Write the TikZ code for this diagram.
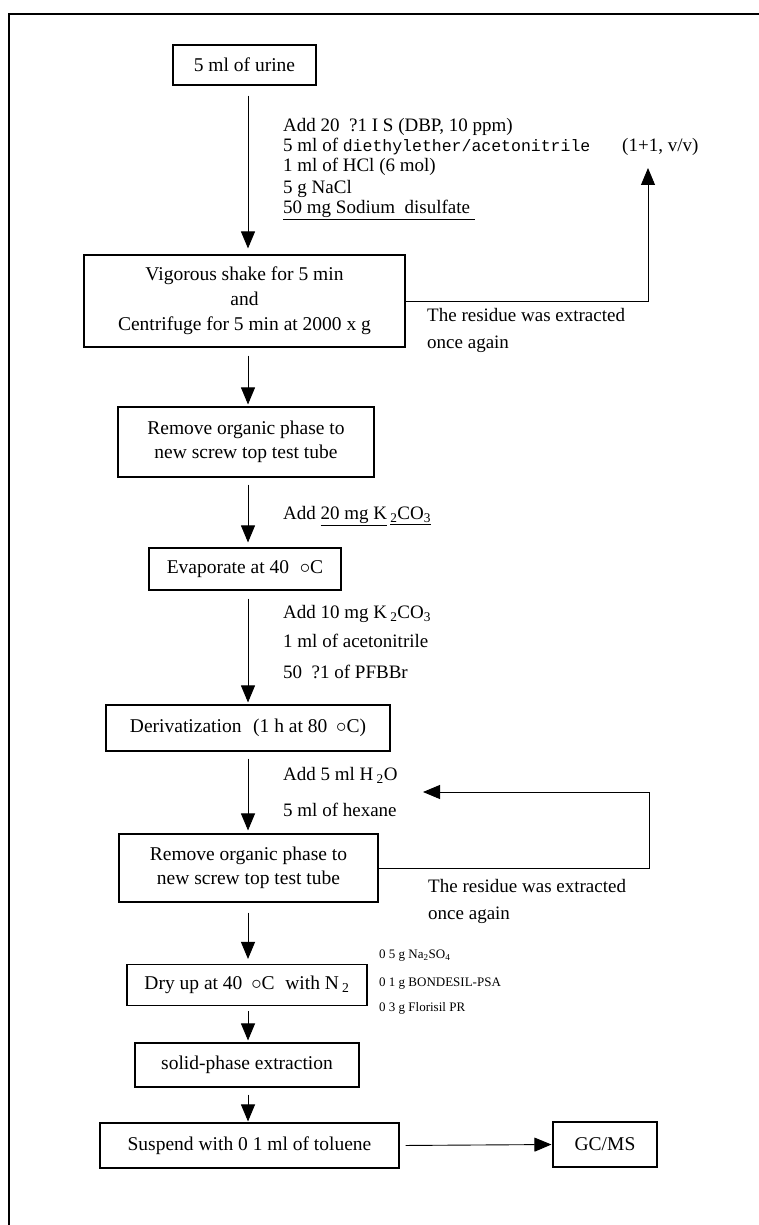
\documentclass[tikz,border=0pt]{standalone}
\usepackage{fontspec}
\setmainfont{Liberation Serif}
\newfontfamily\monofont{Liberation Mono}
\usetikzlibrary{arrows.meta}
\newcommand{\mysub}[1]{\textsubscript{#1}}
\begin{document}
\begin{tikzpicture}[x=1pt,y=-1pt,
  box/.style={draw, line width=1.1pt, inner sep=0pt, align=center,
              font=\fontsize{19.5}{25}\selectfont},
  lbl/.style={anchor=west, inner sep=0pt, font=\fontsize{19}{22}\selectfont},
  smalllbl/.style={anchor=west, inner sep=0pt, font=\fontsize{13}{15}\selectfont},
  arr/.style={line width=0.9pt, -{Triangle[width=14pt,length=17pt]}},
  frameline/.style={line width=1.1pt}]
\useasboundingbox (0,0) rectangle (759,1225);
% frame
\draw[frameline] (9,1225) -- (9,14) -- (759,14);
\coordinate (axis) at (248,0);
% boxes
\node[box, minimum width=143pt, minimum height=40pt] (b1) at (244.5,65) {5 ml of urine};
\node[box, minimum width=321pt, minimum height=92pt] (b2) at (244.5,301)
  {Vigorous shake for 5 min\\and\\Centrifuge for 5 min at 2000 x g};
\node[box, minimum width=256pt, minimum height=70pt, font=\fontsize{19.5}{24}\selectfont] (b3) at (246,442)
  {Remove organic phase to\\new screw top test tube};
\node[box, minimum width=192pt, minimum height=42pt] (b4) at (245,569)
  {Evaporate at 40\hspace{0.55em}$\circ$C};
\node[box, minimum width=284pt, minimum height=46pt] (b5) at (248,728)
  {Derivatization\hspace{0.6em}(1 h at 80\hspace{0.45em}$\circ$C)};
\node[box, minimum width=259pt, minimum height=68pt, font=\fontsize{19.5}{24}\selectfont] (b6) at (248.5,868)
  {Remove organic phase to\\new screw top test tube};
\node[box, minimum width=240pt, minimum height=41pt] (b7) at (247,985)
  {Dry up at 40\hspace{0.45em}$\circ$C\hspace{0.3em} with N\,\mysub{2}};
\node[box, minimum width=224pt, minimum height=44pt] (b8) at (247,1065)
  {solid-phase extraction};
\node[box, minimum width=299pt, minimum height=45pt] (b9) at (249.5,1145.5)
  {Suspend with 0 1 ml of toluene};
\node[box, minimum width=104pt, minimum height=45pt] (b10) at (605,1144.5) {GC/MS};
% labels
\node[lbl] (t1) at (283,127) {Add 20\ \ ?1 I S (DBP, 10 ppm)};
\node[lbl] (t2) at (283,147) {5 ml of {\monofont\fontsize{16.5}{20}\selectfont diethylether/acetonitrile}};
\node[lbl] (t2b) at (622,147) {(1+1, v/v)};
\node[lbl] (t3) at (283,167) {1 ml of\ HCl (6 mol)};
\node[lbl] (t4) at (283,189) {5 g NaCl};
\node[lbl] (t5) at (283,210) {\underline{50\ mg Sodium\ \ disulfate\ }};
\node[lbl] (r1a) at (427,315) {The residue was extracted};
\node[lbl] (r1b) at (427,344) {once again};
\node[lbl] (t6) at (283,516) {Add \underline{20 mg K}\,\underline{\mysub{2}}\underline{CO\mysub{3}}};
\node[lbl] (t7) at (283,614) {Add 10 mg K\,\mysub{2}CO\mysub{3}};
\node[lbl] (t8) at (283,641) {1 ml of acetonitrile};
\node[lbl] (t9) at (283,672) {50\ \ ?1 of PFBBr};
\node[lbl] (t10) at (283,775) {Add 5 ml H\,\mysub{2}O};
\node[lbl] (t11) at (283,810) {5 ml of hexane};
\node[lbl] (r2a) at (428,886) {The residue was extracted};
\node[lbl] (r2b) at (428,915) {once again};
\node[smalllbl] (s1) at (379,956) {0 5 g Na\mysub{2}SO\mysub{4}};
\node[smalllbl] (s2) at (379,984) {0 1 g BONDESIL-PSA};
\node[smalllbl] (s3) at (379,1008) {0 3 g Florisil PR};
% main arrows
\draw[arr, shorten <=10pt, shorten >=6pt] (b1.south -| axis) -- (b2.north -| axis);
\draw[arr, shorten <=8pt, shorten >=2pt] (b2.south -| axis) -- (b3.north -| axis);
\draw[arr, shorten <=7pt, shorten >=5pt] (b3.south -| axis) -- (b4.north -| axis);
\draw[arr, shorten <=8pt, shorten >=2pt] (b4.south -| axis) -- (b5.north -| axis);
\draw[arr, shorten <=7pt, shorten >=3pt] (b5.south -| axis) -- (b6.north -| axis);
\draw[arr, shorten <=10pt, shorten >=5pt] (b6.south -| axis) -- (b7.north -| axis);
\draw[arr, shorten <=5pt, shorten >=2pt] (b7.south -| axis) -- (b8.north -| axis);
\draw[arr, shorten <=7pt, shorten >=1pt] (b8.south -| axis) -- (b9.north -| axis);
\draw[arr, shorten <=6pt, shorten >=1pt] (b9.east) -- (b10.west);
% loops
\coordinate (l1top) at (648,168);
\draw[arr] (b2.east) -- (b2.east -| l1top) -- (l1top);
\coordinate (l2corner) at (649,792);
\coordinate (l2tip) at (423,792);
\draw[arr] (b6.east) -| (l2corner) -- (l2tip);
\end{tikzpicture}
\end{document}
